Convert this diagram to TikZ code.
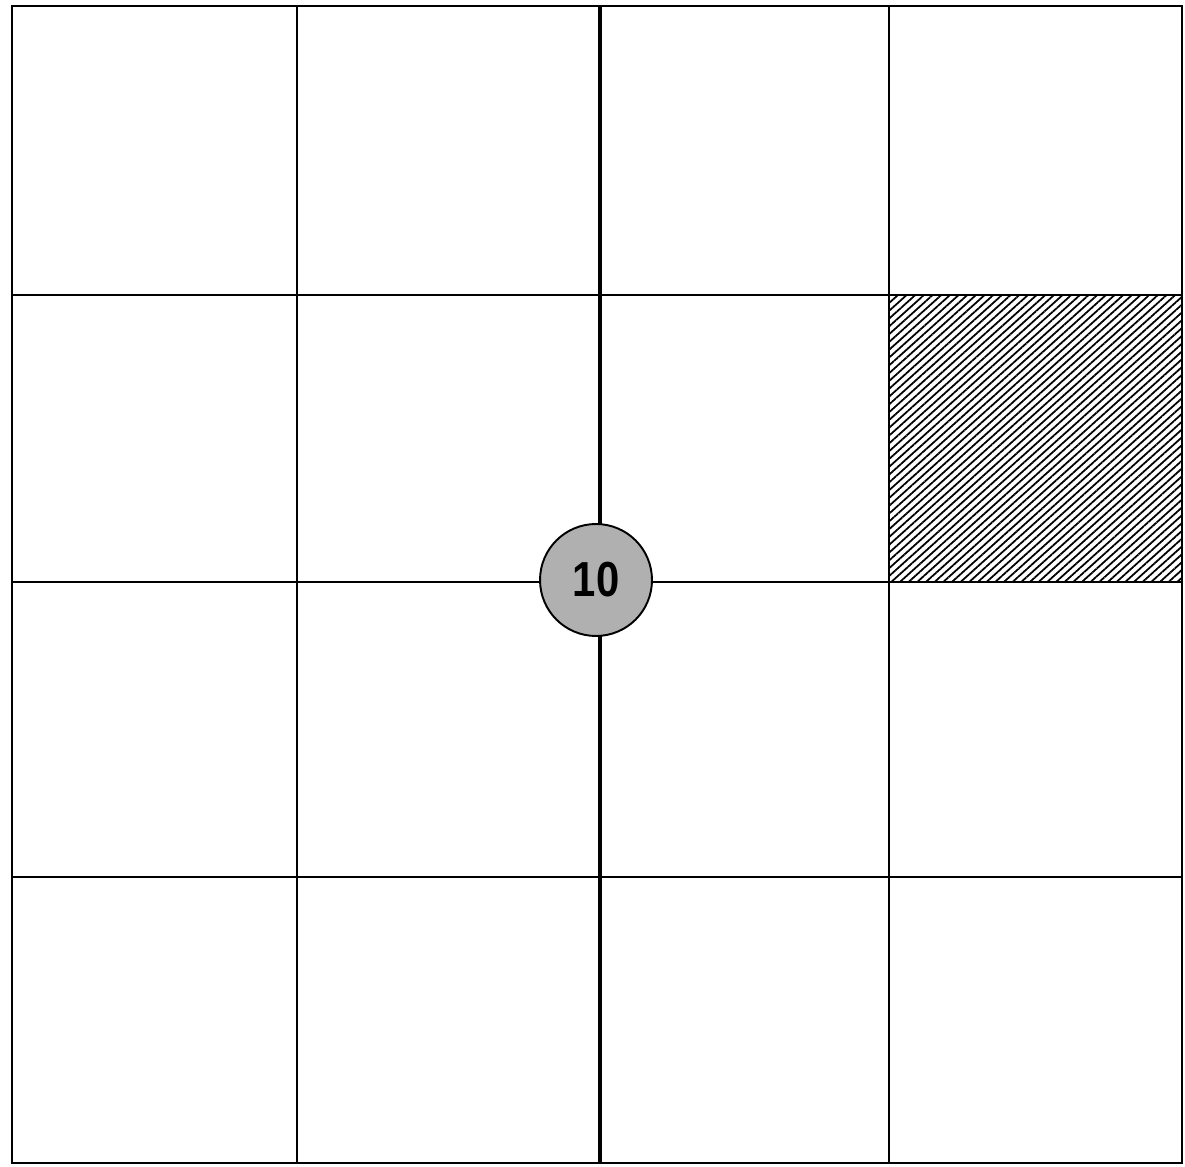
\documentclass[tikz,border=0pt]{standalone}
\usepackage{fontspec}
\setsansfont{Liberation Sans}
\usepackage{tikz}
\usetikzlibrary{patterns.meta}
\tikzset{
  gridline/.style={line width=0.9pt},
  frameline/.style={line width=1.4pt},
  axisline/.style={line width=1.8pt},
  hatched/.style={pattern={Lines[angle=42, distance=3.3pt, line width=1pt]}},
  marker/.style={circle, draw, line width=1.1pt, fill=gray!62, inner sep=0pt,
    minimum size=2.24cm, font=\sffamily\bfseries\fontsize{28}{28}\selectfont},
}
\begin{document}
\begin{tikzpicture}[x=0.02cm,y=0.02cm]
  \useasboundingbox (0,0) rectangle (1185,1166);
  % hatched cell, row 2 / column 4
  \fill[hatched] (889,584) rectangle (1182,871);
  % inner grid
  \foreach \x in {297,889}
    \draw[gridline] (\x,3) -- (\x,1160);
  \foreach \y in {871,584,289}
    \draw[gridline] (12,\y) -- (1182,\y);
  \draw[axisline] (600,3) -- (600,1160);
  % outer frame
  \draw[frameline] (12,3) rectangle (1182,1160);
  \node[marker] (ten) at (596,586) {\scalebox{0.85}[1]{10}};
\end{tikzpicture}
\end{document}
